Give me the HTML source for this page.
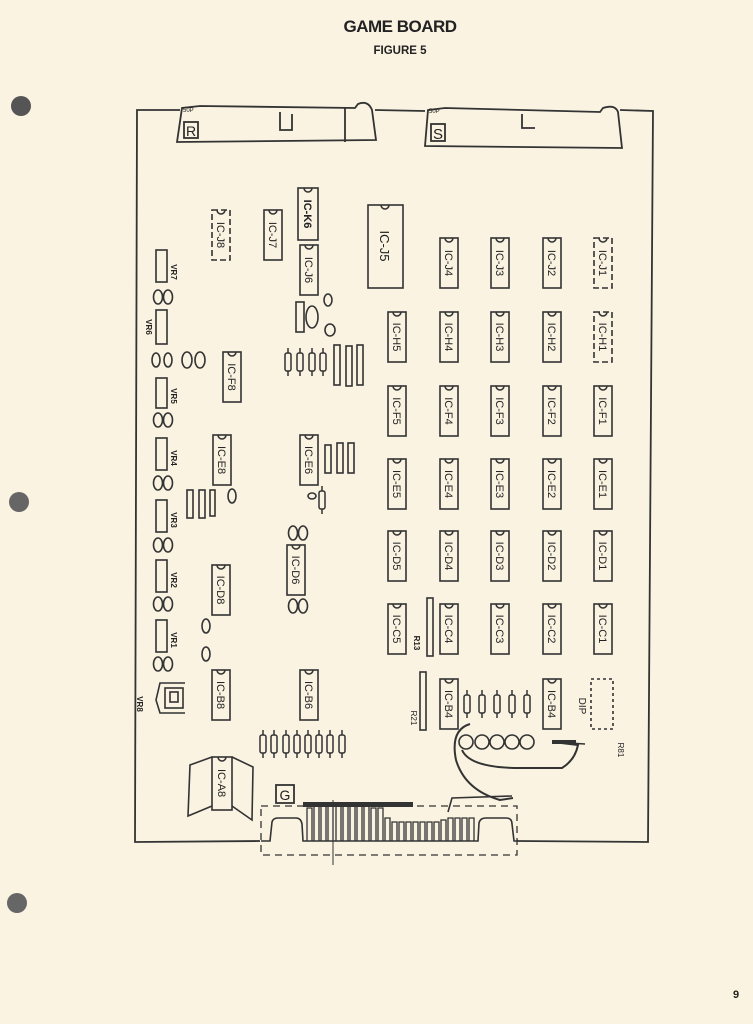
<!DOCTYPE html>
<html><head><meta charset="utf-8">
<style>
html,body{margin:0;padding:0;background:#faf3e2;}
svg{display:block;}
text{font-family:"Liberation Sans",sans-serif;fill:#222;}
</style></head><body>
<svg width="753" height="1024" viewBox="0 0 753 1024" xmlns="http://www.w3.org/2000/svg">
<defs>
<g id="res"><line x1="0" y1="-14" x2="0" y2="14" stroke="#333" stroke-width="1.5"/><rect x="-3" y="-9" width="6" height="18" rx="2" fill="#faf3e2" stroke="#333" stroke-width="1.5"/></g>
<g id="cap2"><ellipse cx="-5" cy="0" rx="4.5" ry="7" fill="none" stroke="#333" stroke-width="1.6"/><ellipse cx="5" cy="0" rx="4.5" ry="7" fill="none" stroke="#333" stroke-width="1.6"/></g>
<path id="n" d="M-4,0 A4,4 0 0,0 4,0" fill="none" stroke="#333" stroke-width="1.5"/>
</defs>
<rect width="753" height="1024" fill="#faf3e2"/>
<!-- holes -->
<circle cx="21" cy="106" r="10" fill="#555"/>
<circle cx="19" cy="502" r="10" fill="#666"/>
<circle cx="17" cy="903" r="10" fill="#666"/>
<text x="400" y="32" text-anchor="middle" font-size="17" font-weight="bold" style="letter-spacing:-0.5px">GAME BOARD</text>
<text x="400" y="54" text-anchor="middle" font-size="11.5" font-weight="bold">FIGURE 5</text>
<text x="736" y="998" text-anchor="middle" font-size="11" font-weight="bold">9</text>

<g stroke="#333" stroke-width="1.8" fill="none">
<polyline points="180,110 137,110 135,842 260,841"/>
<polyline points="620,110 653,111 648,842 517,841"/>
<line x1="375" y1="110" x2="425" y2="111"/>
<path d="M177,142 L182,108 L200,106 L355,108 L358,104 Q368,100 372,110 L376,140 Z"/>
<line x1="345" y1="108" x2="345" y2="142"/>
<path d="M280,112 L280,130 L292,130 L292,114"/>
<path d="M425,146 L428,110 L445,108 L600,112 L603,108 Q615,104 618,112 L622,148 Z"/>
<path d="M522,114 L522,128 L535,128"/>
</g>
<rect x="184" y="122" width="14" height="16" fill="none" stroke="#333" stroke-width="1.8"/>
<text x="191" y="136" text-anchor="middle" font-size="14">R</text>
<rect x="431" y="124" width="14" height="17" fill="none" stroke="#333" stroke-width="1.8"/>
<text x="438" y="139" text-anchor="middle" font-size="15">S</text>
<text x="183" y="112" font-size="6">50P</text>
<text x="429" y="113" font-size="6">50P</text>

<g stroke="#333" stroke-width="1.6" fill="none">
<rect x="388" y="312" width="18" height="50"/><rect x="388" y="386" width="18" height="50"/><rect x="388" y="459" width="18" height="50"/><rect x="388" y="531" width="18" height="50"/><rect x="388" y="604" width="18" height="50"/>
<rect x="440" y="238" width="18" height="50"/><rect x="440" y="312" width="18" height="50"/><rect x="440" y="386" width="18" height="50"/><rect x="440" y="459" width="18" height="50"/><rect x="440" y="531" width="18" height="50"/><rect x="440" y="604" width="18" height="50"/><rect x="440" y="679" width="18" height="50"/>
<rect x="491" y="238" width="18" height="50"/><rect x="491" y="312" width="18" height="50"/><rect x="491" y="386" width="18" height="50"/><rect x="491" y="459" width="18" height="50"/><rect x="491" y="531" width="18" height="50"/><rect x="491" y="604" width="18" height="50"/>
<rect x="543" y="238" width="18" height="50"/><rect x="543" y="312" width="18" height="50"/><rect x="543" y="386" width="18" height="50"/><rect x="543" y="459" width="18" height="50"/><rect x="543" y="531" width="18" height="50"/><rect x="543" y="604" width="18" height="50"/><rect x="543" y="679" width="18" height="50"/>
<rect x="594" y="238" width="18" height="50" stroke-dasharray="6,3"/><rect x="594" y="312" width="18" height="50" stroke-dasharray="6,3"/><rect x="594" y="386" width="18" height="50"/><rect x="594" y="459" width="18" height="50"/><rect x="594" y="531" width="18" height="50"/><rect x="594" y="604" width="18" height="50"/>
<rect x="591" y="679" width="22" height="50" stroke-dasharray="3,3"/>
<rect x="212" y="210" width="18" height="50" stroke-dasharray="6,3"/>
<rect x="264" y="210" width="18" height="50"/>
<rect x="298" y="188" width="20" height="52"/>
<rect x="300" y="245" width="18" height="50"/>
<rect x="368" y="205" width="35" height="83"/>
<rect x="223" y="352" width="18" height="50"/>
<rect x="213" y="435" width="18" height="50"/>
<rect x="300" y="435" width="18" height="50"/>
<rect x="287" y="545" width="18" height="50"/>
<rect x="212" y="565" width="18" height="50"/>
<rect x="212" y="670" width="18" height="50"/>
<rect x="300" y="670" width="18" height="50"/>
<rect x="212" y="757" width="20" height="53"/>
<path d="M212,757 L190,765 L188,816 L212,806 M232,757 L253,767 L252,820 L232,806"/>
<rect x="427" y="598" width="6" height="58"/>
<rect x="420" y="672" width="6" height="58"/>
<rect x="261" y="806" width="256" height="49" stroke-dasharray="7,5" stroke-width="1.3"/>
<path d="M261,841 L270,841 L272,822 Q273,818 278,818 L296,818 Q301,818 302,824 L303,841 L478,841 L479,823 Q480,818 486,818 L506,818 Q512,818 512,824 L514,841 L518,841"/>
<line x1="333" y1="800" x2="333" y2="865" stroke-width="1"/>
<rect x="156" y="250" width="11" height="32"/><rect x="156" y="310" width="11" height="34"/><rect x="156" y="378" width="11" height="30"/><rect x="156" y="438" width="11" height="32"/><rect x="156" y="500" width="11" height="32"/><rect x="156" y="560" width="11" height="32"/><rect x="156" y="620" width="11" height="32"/>
<path d="M185,683 L160,683 L156,700 L160,713 L185,713"/>
<rect x="165" y="688" width="18" height="20"/>
<rect x="170" y="692" width="8" height="10"/>
<circle cx="466" cy="742" r="7"/><circle cx="482" cy="742" r="7"/><circle cx="497" cy="742" r="7"/><circle cx="512" cy="742" r="7"/><circle cx="527" cy="742" r="7"/>
<path d="M470,724 Q450,730 456,760 Q465,790 500,800 L513,798" stroke-width="2"/>
<path d="M462,750 Q470,768 520,768 L562,768 Q575,760 578,745 L553,742" stroke-width="2"/>
<path d="M552,742 L585,744"/>
<path d="M448,812 L452,798 L512,796"/>
<rect x="325" y="445" width="6" height="28"/><rect x="337" y="443" width="6" height="30"/><rect x="348" y="443" width="6" height="30"/>
<rect x="187" y="490" width="6" height="28"/><rect x="199" y="490" width="6" height="28"/><rect x="210" y="490" width="5" height="26"/>
<rect x="296" y="302" width="8" height="30"/>
<rect x="334" y="345" width="6" height="40"/><rect x="346" y="346" width="6" height="40"/><rect x="357" y="345" width="6" height="40"/>
<ellipse cx="206" cy="626" rx="4" ry="7"/><ellipse cx="206" cy="654" rx="4" ry="7"/>
<ellipse cx="312" cy="317" rx="6" ry="11"/><ellipse cx="328" cy="300" rx="4" ry="6"/><ellipse cx="330" cy="330" rx="5" ry="6"/>
<ellipse cx="232" cy="496" rx="4" ry="7"/><ellipse cx="312" cy="496" rx="4" ry="3"/>
<ellipse cx="200" cy="360" rx="5" ry="8"/><ellipse cx="187" cy="360" rx="5" ry="8"/>
<ellipse cx="168" cy="360" rx="4" ry="7"/><ellipse cx="156" cy="360" rx="4" ry="7"/>
</g>
<!-- notches -->
<use href="#n" x="397" y="312"/><use href="#n" x="397" y="386"/><use href="#n" x="397" y="459"/><use href="#n" x="397" y="531"/><use href="#n" x="397" y="604"/>
<use href="#n" x="449" y="238"/><use href="#n" x="449" y="312"/><use href="#n" x="449" y="386"/><use href="#n" x="449" y="459"/><use href="#n" x="449" y="531"/><use href="#n" x="449" y="604"/><use href="#n" x="449" y="679"/>
<use href="#n" x="500" y="238"/><use href="#n" x="500" y="312"/><use href="#n" x="500" y="386"/><use href="#n" x="500" y="459"/><use href="#n" x="500" y="531"/><use href="#n" x="500" y="604"/>
<use href="#n" x="552" y="238"/><use href="#n" x="552" y="312"/><use href="#n" x="552" y="386"/><use href="#n" x="552" y="459"/><use href="#n" x="552" y="531"/><use href="#n" x="552" y="604"/><use href="#n" x="552" y="679"/>
<use href="#n" x="603" y="238"/><use href="#n" x="603" y="312"/><use href="#n" x="603" y="386"/><use href="#n" x="603" y="459"/><use href="#n" x="603" y="531"/><use href="#n" x="603" y="604"/>
<use href="#n" x="221" y="210"/><use href="#n" x="273" y="210"/><use href="#n" x="308" y="188"/><use href="#n" x="309" y="245"/><use href="#n" x="385" y="205"/>
<use href="#n" x="232" y="352"/><use href="#n" x="222" y="435"/><use href="#n" x="309" y="435"/><use href="#n" x="296" y="545"/><use href="#n" x="221" y="565"/><use href="#n" x="221" y="670"/><use href="#n" x="309" y="670"/><use href="#n" x="222" y="757"/>
<g fill="#333">
<rect x="552" y="740" width="24" height="4"/>
<rect x="303" y="802" width="110" height="5"/>
</g>
<use href="#res" x="288" y="362"/><use href="#res" x="300" y="362"/><use href="#res" x="312" y="362"/><use href="#res" x="323" y="362"/>
<use href="#res" x="263" y="744"/><use href="#res" x="274" y="744"/><use href="#res" x="286" y="744"/><use href="#res" x="297" y="744"/><use href="#res" x="308" y="744"/><use href="#res" x="319" y="744"/><use href="#res" x="330" y="744"/><use href="#res" x="342" y="744"/>
<use href="#res" x="467" y="704"/><use href="#res" x="482" y="704"/><use href="#res" x="497" y="704"/><use href="#res" x="512" y="704"/><use href="#res" x="527" y="704"/>
<use href="#res" x="322" y="500"/>
<use href="#cap2" x="163" y="297"/><use href="#cap2" x="163" y="420"/><use href="#cap2" x="163" y="483"/><use href="#cap2" x="163" y="545"/><use href="#cap2" x="163" y="604"/><use href="#cap2" x="163" y="664"/>
<use href="#cap2" x="298" y="533"/><use href="#cap2" x="298" y="606"/>
<g stroke="#333" stroke-width="1.3" fill="none">
<path d="M307,841 V808 H312 V841 M314,841 V806 H319 V841 M321,841 V806 H326 V841 M328,841 V806 H333 V841 M336,841 V804 H341 V841 M343,841 V804 H348 V841 M350,841 V806 H355 V841 M357,841 V806 H362 V841 M364,841 V806 H369 V841 M371,841 V808 H376 V841 M378,841 V808 H383 V841 M385,841 V818 H390 V841 M392,841 V822 H397 V841 M399,841 V822 H404 V841 M406,841 V822 H411 V841 M413,841 V822 H418 V841 M420,841 V822 H425 V841 M427,841 V822 H432 V841 M434,841 V822 H439 V841 M441,841 V820 H446 V841 M448,841 V818 H453 V841 M455,841 V818 H460 V841 M462,841 V818 H467 V841 M469,841 V818 H474 V841"/>
</g>
<rect x="276" y="785" width="18" height="18" fill="none" stroke="#333" stroke-width="1.8"/>
<text x="285" y="800" text-anchor="middle" font-size="14">G</text>
<g font-size="11">
<text transform="translate(397,337) rotate(90)" text-anchor="middle" dy="4">IC-H5</text>
<text transform="translate(397,411) rotate(90)" text-anchor="middle" dy="4">IC-F5</text>
<text transform="translate(397,484) rotate(90)" text-anchor="middle" dy="4">IC-E5</text>
<text transform="translate(397,556) rotate(90)" text-anchor="middle" dy="4">IC-D5</text>
<text transform="translate(397,629) rotate(90)" text-anchor="middle" dy="4">IC-C5</text>
<text transform="translate(449,263) rotate(90)" text-anchor="middle" dy="4">IC-J4</text>
<text transform="translate(449,337) rotate(90)" text-anchor="middle" dy="4">IC-H4</text>
<text transform="translate(449,411) rotate(90)" text-anchor="middle" dy="4">IC-F4</text>
<text transform="translate(449,484) rotate(90)" text-anchor="middle" dy="4">IC-E4</text>
<text transform="translate(449,556) rotate(90)" text-anchor="middle" dy="4">IC-D4</text>
<text transform="translate(449,629) rotate(90)" text-anchor="middle" dy="4">IC-C4</text>
<text transform="translate(449,704) rotate(90)" text-anchor="middle" dy="4">IC-B4</text>
<text transform="translate(500,263) rotate(90)" text-anchor="middle" dy="4">IC-J3</text>
<text transform="translate(500,337) rotate(90)" text-anchor="middle" dy="4">IC-H3</text>
<text transform="translate(500,411) rotate(90)" text-anchor="middle" dy="4">IC-F3</text>
<text transform="translate(500,484) rotate(90)" text-anchor="middle" dy="4">IC-E3</text>
<text transform="translate(500,556) rotate(90)" text-anchor="middle" dy="4">IC-D3</text>
<text transform="translate(500,629) rotate(90)" text-anchor="middle" dy="4">IC-C3</text>
<text transform="translate(552,263) rotate(90)" text-anchor="middle" dy="4">IC-J2</text>
<text transform="translate(552,337) rotate(90)" text-anchor="middle" dy="4">IC-H2</text>
<text transform="translate(552,411) rotate(90)" text-anchor="middle" dy="4">IC-F2</text>
<text transform="translate(552,484) rotate(90)" text-anchor="middle" dy="4">IC-E2</text>
<text transform="translate(552,556) rotate(90)" text-anchor="middle" dy="4">IC-D2</text>
<text transform="translate(552,629) rotate(90)" text-anchor="middle" dy="4">IC-C2</text>
<text transform="translate(552,704) rotate(90)" text-anchor="middle" dy="4">IC-B4</text>
<text transform="translate(603,263) rotate(90)" text-anchor="middle" dy="4">IC-J1</text>
<text transform="translate(603,337) rotate(90)" text-anchor="middle" dy="4">IC-H1</text>
<text transform="translate(603,411) rotate(90)" text-anchor="middle" dy="4">IC-F1</text>
<text transform="translate(603,484) rotate(90)" text-anchor="middle" dy="4">IC-E1</text>
<text transform="translate(603,556) rotate(90)" text-anchor="middle" dy="4">IC-D1</text>
<text transform="translate(603,629) rotate(90)" text-anchor="middle" dy="4">IC-C1</text>
<text transform="translate(221,235) rotate(90)" text-anchor="middle" dy="4">IC-J8</text>
<text transform="translate(273,235) rotate(90)" text-anchor="middle" dy="4">IC-J7</text>
<text transform="translate(308,214) rotate(90)" text-anchor="middle" dy="4" font-weight="bold">IC-K6</text>
<text transform="translate(309,270) rotate(90)" text-anchor="middle" dy="4">IC-J6</text>
<text transform="translate(385,246) rotate(90)" text-anchor="middle" dy="5" font-size="13">IC-J5</text>
<text transform="translate(232,377) rotate(90)" text-anchor="middle" dy="4">IC-F8</text>
<text transform="translate(222,460) rotate(90)" text-anchor="middle" dy="4">IC-E8</text>
<text transform="translate(309,460) rotate(90)" text-anchor="middle" dy="4">IC-E6</text>
<text transform="translate(296,570) rotate(90)" text-anchor="middle" dy="4">IC-D6</text>
<text transform="translate(221,590) rotate(90)" text-anchor="middle" dy="4">IC-D8</text>
<text transform="translate(221,695) rotate(90)" text-anchor="middle" dy="4">IC-B8</text>
<text transform="translate(309,695) rotate(90)" text-anchor="middle" dy="4">IC-B6</text>
<text transform="translate(222,783) rotate(90)" text-anchor="middle" dy="4">IC-A8</text>
</g>
<g font-size="8" font-weight="bold">
<text transform="translate(171,272) rotate(90)" text-anchor="middle">VR7</text>
<text transform="translate(146,327) rotate(90)" text-anchor="middle">VR6</text>
<text transform="translate(171,396) rotate(90)" text-anchor="middle">VR5</text>
<text transform="translate(171,458) rotate(90)" text-anchor="middle">VR4</text>
<text transform="translate(171,520) rotate(90)" text-anchor="middle">VR3</text>
<text transform="translate(171,580) rotate(90)" text-anchor="middle">VR2</text>
<text transform="translate(171,640) rotate(90)" text-anchor="middle">VR1</text>
<text transform="translate(137,704) rotate(90)" text-anchor="middle">VR8</text>
<text transform="translate(414,643) rotate(90)" text-anchor="middle">R13</text>
<text transform="translate(411,718) rotate(90)" text-anchor="middle" font-weight="normal">R21</text>
<text transform="translate(618,750) rotate(90)" text-anchor="middle" font-weight="normal">R81</text>
<text transform="translate(579,706) rotate(90)" text-anchor="middle" font-weight="normal" font-size="10">DIP</text>
</g>
</svg>
</body></html>
